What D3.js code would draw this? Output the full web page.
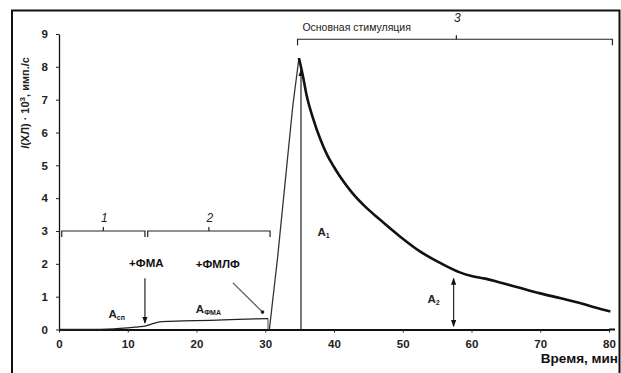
<!DOCTYPE html>
<html>
<head>
<meta charset="utf-8">
<script src="https://cdn.jsdelivr.net/npm/d3@7"></script>
<style>
  html, body { margin: 0; padding: 0; background: #fff; }
  svg { display: block; font-family: "Liberation Sans", Arial, sans-serif; }
</style>
</head>
<body>
<svg id="chart" width="621" height="373"></svg>
<script>
// baseline + ФМА plateau (min, signal x10^3)
const baseTime = [0, 4, 8, 10, 11.5, 12.5, 13.5, 15, 18, 22, 26, 30.4];
const baseVals = [0, 0, 0.02, 0.05, 0.08, 0.1, 0.17, 0.24, 0.26, 0.28, 0.31, 0.33];
// rise after ФМЛФ
const riseTime = [30.6, 31.8, 32.9, 34.0, 34.9];
const riseVals = [0, 2.2, 4.5, 6.8, 8.27];
// decay of main stimulation
const decayTime = [34.9, 35.5, 36, 37, 38, 39, 40, 41, 42.5, 44.5, 46.5, 49.5, 52.5, 55.5, 58.3, 60, 62, 64, 67, 70, 73, 76, 78, 80.2];
const decayVals = [8.27, 7.7, 7.15, 6.4, 5.8, 5.32, 4.95, 4.62, 4.2, 3.75, 3.38, 2.85, 2.38, 2.02, 1.74, 1.63, 1.55, 1.44, 1.27, 1.1, 0.95, 0.79, 0.67, 0.55];

const xTicks = [0, 10, 20, 30, 40, 50, 60, 70, 80];
const yTicks = [0, 1, 2, 3, 4, 5, 6, 7, 8, 9];

// phases: [start, end, label]
const phases = [[0.4, 12.5, '1'], [12.9, 30.7, '2']];
const mainPhase = [34.7, 80.5, '3'];

const svg = d3.select('#chart');

// frame of the scanned figure
svg.append('path')
  .attr('d', 'M12,380V10.5H619.5V380')
  .attr('fill', 'none').attr('stroke', '#111').attr('stroke-width', 2);

const x = d3.scaleLinear().domain([0, 80]).range([59, 609]);
const y = d3.scaleLinear().domain([0, 9]).range([329.5, 34]);

const defs = svg.append('defs');
defs.append('marker')
  .attr('id', 'arr').attr('viewBox', '0 -3 8 6')
  .attr('refX', 7).attr('refY', 0)
  .attr('markerWidth', 7).attr('markerHeight', 6)
  .attr('markerUnits', 'userSpaceOnUse')
  .attr('orient', 'auto-start-reverse')
  .append('path').attr('d', 'M0,-3L8,0L0,3Z').attr('fill', '#111');

// axes
const xAxis = svg.append('g')
  .attr('transform', `translate(0,${y(0)})`)
  .call(d3.axisBottom(x).tickValues(xTicks).tickSize(3).tickPadding(7).tickSizeOuter(0));
xAxis.select('.domain').attr('stroke-width', 2);
svg.append('line')
  .attr('x1', x(80)).attr('x2', 615).attr('y1', y(0)).attr('y2', y(0))
  .attr('stroke', '#111').attr('stroke-width', 2);

const yAxis = svg.append('g')
  .attr('transform', `translate(${x(0)},0)`)
  .call(d3.axisLeft(y).tickValues(yTicks).tickSize(3).tickPadding(8).tickSizeOuter(0));
yAxis.select('.domain').attr('stroke-width', 1.3);

svg.selectAll('.tick text')
  .attr('font-family', '"Liberation Sans", Arial, sans-serif')
  .attr('font-size', 11.5).attr('font-weight', 'bold').attr('fill', '#222');
svg.selectAll('.tick line').attr('stroke', '#222');
svg.selectAll('.domain').attr('stroke', '#111');

// axis titles
svg.append('text')
  .attr('transform', `translate(29,${y(6.9)}) rotate(-90)`)
  .attr('text-anchor', 'middle')
  .attr('font-size', 11).attr('font-weight', 'bold').attr('fill', '#222')
  .html('<tspan font-style="italic">I</tspan>(ХЛ) · 10<tspan dy="-4" font-size="8">3</tspan><tspan dy="4">, имп./с</tspan>');

svg.append('text')
  .attr('x', 618).attr('y', 363)
  .attr('text-anchor', 'end')
  .attr('font-size', 13.5).attr('font-weight', 'bold').attr('fill', '#111')
  .text('Время, мин');

// curve
const line = d3.line().x(d => x(d[0])).y(d => y(d[1])).curve(d3.curveMonotoneX);
const zip = (a, b) => a.map((t, i) => [t, b[i]]);

svg.append('path').datum(zip(baseTime, baseVals))
  .attr('d', line).attr('fill', 'none').attr('stroke', '#222').attr('stroke-width', 1.3);
svg.append('line')
  .attr('x1', x(30.4)).attr('x2', x(30.4))
  .attr('y1', y(baseVals[baseVals.length - 1])).attr('y2', y(0))
  .attr('stroke', '#444').attr('stroke-width', 1);
svg.append('path').datum(zip(riseTime, riseVals))
  .attr('d', d3.line().x(d => x(d[0])).y(d => y(d[1])))
  .attr('fill', 'none').attr('stroke', '#333').attr('stroke-width', 1.3);
svg.append('path').datum(zip(decayTime, decayVals))
  .attr('d', line).attr('fill', 'none').attr('stroke', '#111').attr('stroke-width', 2.6)
  .attr('stroke-linejoin', 'round');

// phase brackets
function bracket(x0, x1, yv, lbl, lx, ldy) {
  const yy = y(yv);
  const g = svg.append('g').attr('stroke', '#222').attr('fill', 'none').attr('stroke-width', 1.2);
  g.append('path').attr('d', `M${x(x0)},${yy + 6}V${yy}H${x(x1)}V${yy + 6}`);
  const cx = lx != null ? lx : (x0 + x1) / 2;
  g.append('line').attr('x1', x(cx)).attr('x2', x(cx)).attr('y1', yy).attr('y2', yy - 4);
  svg.append('text').attr('x', x(cx) + 1).attr('y', yy - (ldy || 9))
    .attr('text-anchor', 'middle').attr('font-size', 12).attr('font-style', 'italic').attr('fill', '#222')
    .text(lbl);
}
phases.forEach(p => bracket(p[0], p[1], 3, p[2]));
bracket(mainPhase[0], mainPhase[1], 8.84, mainPhase[2], 57.8, 17);

svg.append('text').attr('x', x(35.4)).attr('y', 31)
  .attr('font-size', 10.5).attr('fill', '#222').text('Основная стимуляция');

// labels with subscripts
function aLabel(xv, yv, sub, size) {
  svg.append('text').attr('x', x(xv)).attr('y', y(yv))
    .attr('font-size', size || 11.5).attr('font-weight', 'bold').attr('fill', '#222')
    .html(`A<tspan dy="2" font-size="7">${sub}</tspan>`);
}
aLabel(7.2, 0.35, 'сп');
aLabel(19.9, 0.5, 'ФМА');
aLabel(37.6, 2.85, '1');
aLabel(53.6, 0.8, '2');

// reagent additions
svg.append('text').attr('x', x(12.7)).attr('y', y(1.9))
  .attr('text-anchor', 'middle').attr('font-size', 11.5).attr('font-weight', 'bold').attr('fill', '#111')
  .text('+ФМА');
svg.append('text').attr('x', x(23.1)).attr('y', y(1.87))
  .attr('text-anchor', 'middle').attr('font-size', 11.5).attr('font-weight', 'bold').attr('fill', '#111')
  .text('+ФМЛФ');

const arrows = svg.append('g').attr('stroke', '#222').attr('stroke-width', 1.2);
arrows.append('line')
  .attr('x1', x(12.5)).attr('x2', x(12.5)).attr('y1', y(1.56)).attr('y2', y(0.2))
  .attr('marker-end', 'url(#arr)');
arrows.append('line')
  .attr('x1', x(25.3)).attr('x2', x(29.6)).attr('y1', y(1.42)).attr('y2', y(0.53))
  .attr('stroke', '#555');
svg.append('circle').attr('cx', x(29.6)).attr('cy', y(0.53)).attr('r', 1.8).attr('fill', '#222');

// amplitudes
arrows.append('line')
  .attr('x1', x(35.2)).attr('x2', x(35.2)).attr('y1', y(0)).attr('y2', y(7.9))
  .attr('marker-end', 'url(#arr)');
arrows.append('line')
  .attr('x1', x(57.4)).attr('x2', x(57.4)).attr('y1', y(0.1)).attr('y2', y(1.55))
  .attr('marker-start', 'url(#arr)').attr('marker-end', 'url(#arr)');
</script>
</body>
</html>
